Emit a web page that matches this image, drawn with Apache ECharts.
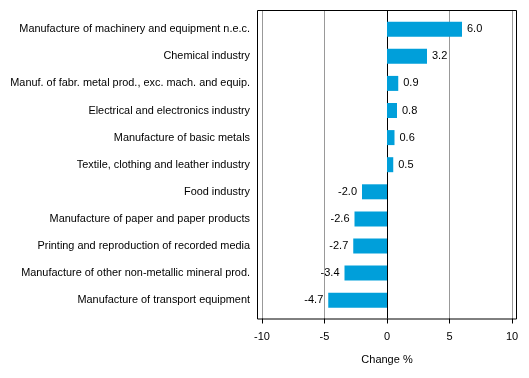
<!DOCTYPE html>
<html>
<head>
<meta charset="utf-8">
<script src="https://cdn.jsdelivr.net/npm/echarts@6/dist/echarts.min.js"></script>
<style>
html,body{margin:0;padding:0;background:#fff;}
#c{width:529px;height:378px;}
</style>
</head>
<body>
<div id="c"></div>
<script>
const categories = [
  "Manufacture of machinery and equipment n.e.c.",
  "Chemical industry",
  "Manuf. of fabr. metal prod., exc. mach. and equip.",
  "Electrical and electronics industry",
  "Manufacture of basic metals",
  "Textile, clothing and leather industry",
  "Food industry",
  "Manufacture of paper and paper products",
  "Printing and reproduction of recorded media",
  "Manufacture of other non-metallic mineral prod.",
  "Manufacture of transport equipment"
];
const changeValues = [6.0, 3.2, 0.9, 0.8, 0.6, 0.5, -2.0, -2.6, -2.7, -3.4, -4.7];
const xMin = -10, xMax = 10, xInterval = 5;
const axisTitle = "Change %";

const FONT = "'Liberation Sans', Arial, sans-serif";
const chart = echarts.init(document.getElementById('c'), null, {renderer: 'canvas'});
const gL = 262, gR = 17;

chart.setOption({
  animation: false,
  backgroundColor: '#ffffff',
  textStyle: {fontFamily: FONT},
  grid: [
    {left: gL, right: gR, top: 15.65, bottom: 64.25, containLabel: false},
    {left: gL, right: gR, top: 10.5, bottom: 59.5, containLabel: false}
  ],
  xAxis: [
    {gridIndex: 0, type: 'value', min: xMin, max: xMax, interval: xInterval, show: false},
    {
      gridIndex: 1, type: 'value', min: xMin, max: xMax, interval: xInterval,
      position: 'bottom',
      axisLine: {show: false},
      axisTick: {show: true, inside: false, length: 5, lineStyle: {color: '#000', width: 1}},
      axisLabel: {color: '#000', fontSize: 11, fontFamily: FONT, margin: 13, showMinLabel: true, showMaxLabel: true},
      splitLine: {show: true, showMinLine: true, showMaxLine: true, lineStyle: {color: ['#999999', '#999999', '#000000', '#999999', '#999999'], width: 1}},
      name: axisTitle, nameLocation: 'middle', nameGap: 36,
      nameTextStyle: {color: '#000', fontSize: 11, fontFamily: FONT}
    }
  ],
  yAxis: [
    {
      gridIndex: 0, type: 'category', data: categories, inverse: true,
      axisLine: {show: false}, axisTick: {show: false},
      axisLabel: {color: '#000', fontSize: 10.9, fontFamily: FONT, margin: 12},
      splitLine: {show: false}
    },
    {gridIndex: 1, type: 'value', min: 0, max: 1, show: false}
  ],
  series: [{
    type: 'bar',
    xAxisIndex: 0, yAxisIndex: 0,
    barWidth: 15,
    z: 5,
    itemStyle: {color: '#009FDA'},
    data: changeValues.map(v => ({
      value: v,
      label: {position: v >= 0 ? 'right' : 'left'}
    })),
    label: {
      show: true, distance: 5, color: '#000', fontSize: 11, fontFamily: FONT,
      formatter: p => p.value.toFixed(1)
    }
  }],
  graphic: [{
    type: 'rect', z: 100, silent: true,
    shape: {x: 257.5, y: 10.5, width: 259, height: 308.5},
    style: {fill: null, stroke: '#000', lineWidth: 1}
  }]
});
</script>
</body>
</html>
